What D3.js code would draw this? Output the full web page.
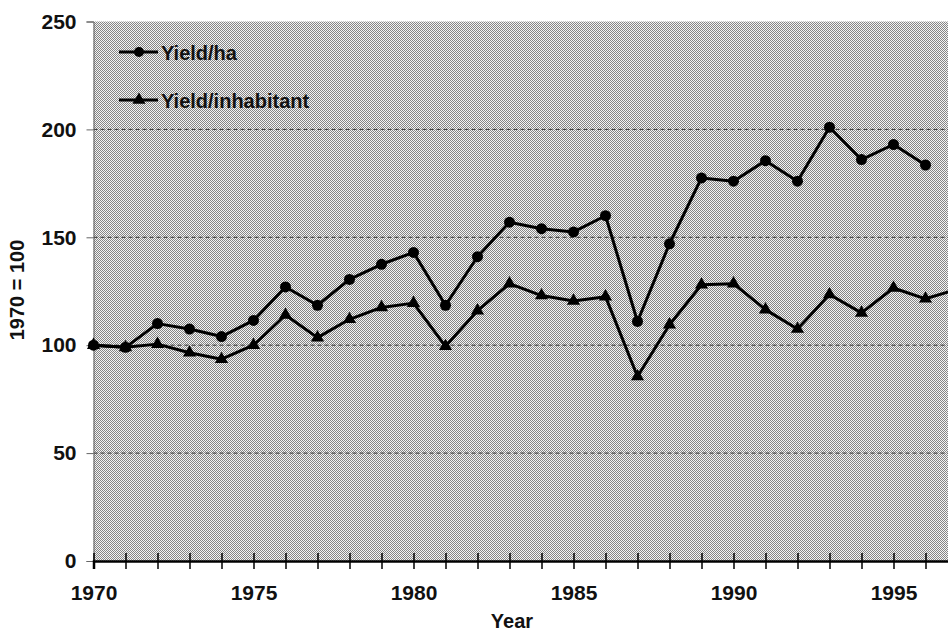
<html>
<meta charset="utf-8">
<style>
  body { margin: 0; background: #fff; }
  text { font-family: "Liberation Sans", Arial, sans-serif; font-weight: bold; }
</style>
<body>
<script src="https://d3js.org/d3.v7.min.js"></script>
<script>
// data (index 1970 = 100)
var years = d3.range(1970, 1998);
var yieldHa = [100, 99, 110, 107.5, 104, 111.5, 127, 118.5, 130.5, 137.5, 143, 118.5, 141, 157, 154, 152.5, 160, 111, 147, 177.5, 176, 185.5, 176, 201, 186, 193, 183.5];
var yieldInhab = [100, 99, 100.5, 96.5, 93.5, 100, 114, 103.5, 112, 117.5, 119.5, 99.5, 116, 128.5, 123, 120.5, 122.5, 85.5, 109.5, 128, 128.5, 116.5, 107.5, 123.5, 115, 126.5, 121.5, 126];
var yTicks = [0, 50, 100, 150, 200, 250];
var xLabels = [1970, 1975, 1980, 1985, 1990, 1995];
var seriesNames = ["Yield/ha", "Yield/inhabitant"];

var width = 948, height = 633;
var margin = {top: 21.5, left: 93.5, bottom: 72};

var svg = d3.select("body").append("svg")
    .attr("width", width)
    .attr("height", height);

// dithered grey background like the scanned original
var pat = svg.append("defs").append("pattern")
    .attr("id", "dots")
    .attr("patternUnits", "userSpaceOnUse")
    .attr("width", 2).attr("height", 2);
pat.append("rect").attr("width", 2).attr("height", 2).attr("fill", "#f4f4f4");
pat.append("rect").attr("width", 1).attr("height", 1).attr("fill", "#858585");
pat.append("rect").attr("x", 1).attr("y", 1).attr("width", 1).attr("height", 1).attr("fill", "#858585");

var xScale = d3.scaleLinear().domain([1970, 1997]).range([margin.left, margin.left + 27 * 32]);
var yScale = d3.scaleLinear().domain([0, 250]).range([height - margin.bottom, margin.top]);

svg.append("rect")
    .attr("x", xScale(1970))
    .attr("y", yScale(250))
    .attr("width", width - xScale(1970))
    .attr("height", yScale(0) - yScale(250))
    .attr("fill", "url(#dots)");

// dashed grid
svg.append("g").selectAll("line")
    .data(yTicks.filter(function(d) { return d > 0 && d < 250; }))
    .enter().append("line")
    .attr("x1", xScale(1970)).attr("x2", width)
    .attr("y1", function(d) { return yScale(d); })
    .attr("y2", function(d) { return yScale(d); })
    .attr("stroke", "#333")
    .attr("stroke-width", 1)
    .attr("stroke-dasharray", "4,3");

// y axis
var yAxis = d3.axisLeft(yScale).tickValues(yTicks).tickSize(7).tickPadding(10);
var gy = svg.append("g")
    .attr("transform", "translate(" + xScale(1970) + ",0)")
    .call(yAxis);
gy.select(".domain").attr("stroke", "#666");
gy.selectAll(".tick line").attr("stroke", "#666");
gy.selectAll("text").attr("font-size", 21).attr("fill", "#111")
    .attr("font-family", "Liberation Sans, Arial, sans-serif");

// x axis, ticks crossing the line
var xAxis = d3.axisBottom(xScale)
    .tickValues(years.slice(0, 27))
    .tickSize(8)
    .tickPadding(16)
    .tickFormat(function(d) { return xLabels.indexOf(d) >= 0 ? d : ""; });
var gx = svg.append("g")
    .attr("transform", "translate(0," + yScale(0) + ")")
    .call(xAxis);
gx.select(".domain").attr("stroke", "#000").attr("stroke-width", 2.5);
gx.selectAll(".tick line").attr("y1", -8).attr("stroke", "#000").attr("stroke-width", 1.5);
gx.selectAll("text").attr("font-size", 21).attr("fill", "#111")
    .attr("font-family", "Liberation Sans, Arial, sans-serif");

// axis titles
svg.append("text")
    .attr("x", 512).attr("y", 628)
    .attr("text-anchor", "middle")
    .attr("font-size", 20)
    .attr("fill", "#111")
    .text("Year");
svg.append("text")
    .attr("transform", "translate(24," + 290 + ") rotate(-90)")
    .attr("text-anchor", "middle")
    .attr("font-size", 20)
    .attr("fill", "#111")
    .text("1970 = 100");

// lines
var line = d3.line()
    .x(function(d) { return xScale(d.x); })
    .y(function(d) { return yScale(d.y); });

var haData = yieldHa.map(function(v, i) { return {x: years[i], y: v}; });
var inhData = yieldInhab.map(function(v, i) { return {x: years[i], y: v}; });

var plot = svg.append("g");

plot.append("path").datum(inhData)
    .attr("d", line).attr("fill", "none")
    .attr("stroke", "#000").attr("stroke-width", 3).attr("stroke-linejoin", "round");
plot.append("path").datum(haData)
    .attr("d", line).attr("fill", "none")
    .attr("stroke", "#000").attr("stroke-width", 3).attr("stroke-linejoin", "round");

var tri = d3.symbol().type(d3.symbolTriangle).size(75);

plot.selectAll(".tri")
    .data(inhData).enter()
    .append("path")
    .attr("class", "tri")
    .attr("transform", function(d) { return "translate(" + xScale(d.x) + "," + yScale(d.y) + ")"; })
    .attr("d", tri)
    .attr("fill", "#000");

plot.selectAll(".dot")
    .data(haData).enter()
    .append("circle")
    .attr("class", "dot")
    .attr("cx", function(d) { return xScale(d.x); })
    .attr("cy", function(d) { return yScale(d.y); })
    .attr("r", 5.5)
    .attr("fill", "#000");

// legend
var legend = svg.append("g");
seriesNames.forEach(function(name, i) {
    var ly = 52 + i * 48;
    legend.append("line")
        .attr("x1", 119).attr("x2", 158)
        .attr("y1", ly).attr("y2", ly)
        .attr("stroke", "#000").attr("stroke-width", 3);
    if (i == 0) {
        legend.append("circle").attr("cx", 139).attr("cy", ly).attr("r", 5).attr("fill", "#000");
    } else {
        legend.append("path")
            .attr("transform", "translate(139," + ly + ")")
            .attr("d", tri).attr("fill", "#000");
    }
    legend.append("text")
        .attr("x", 161).attr("y", ly + 7.5)
        .attr("font-size", 20)
        .attr("fill", "#111")
        .text(name);
});
</script>
</body>
</html>
